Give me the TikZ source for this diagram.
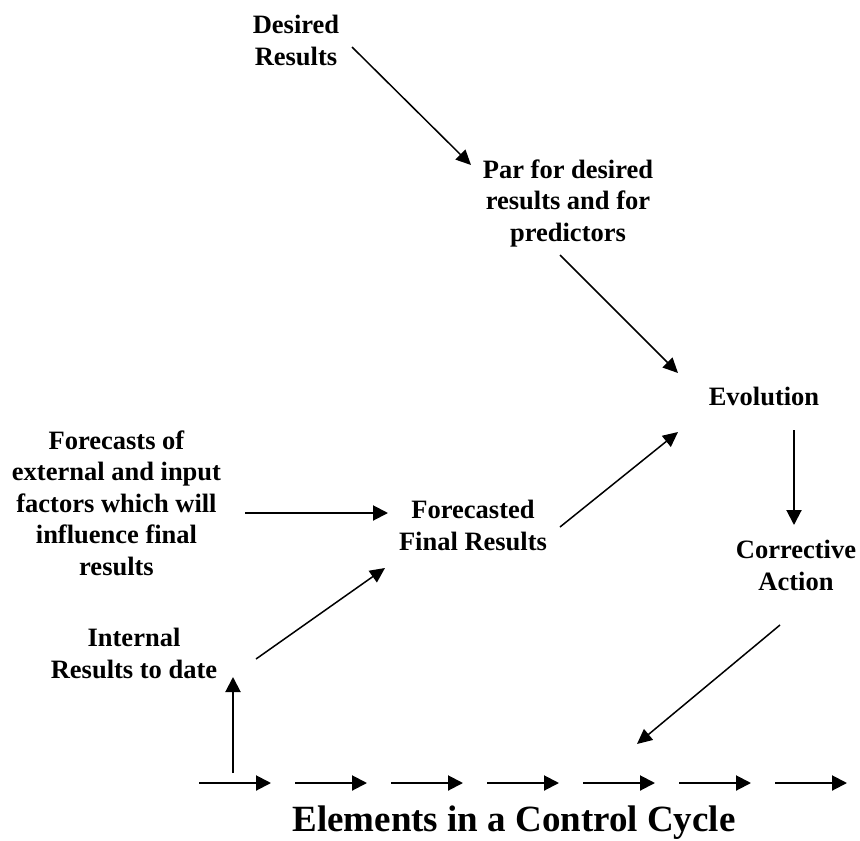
\documentclass[tikz,border=0pt]{standalone}
\usepackage{fontspec}
\setmainfont{Liberation Serif}
\usetikzlibrary{arrows.meta}

\tikzset{
  lbl/.style={align=center, inner sep=0pt, anchor=base,
    font=\bfseries\fontsize{26.5}{31.5}\selectfont},
  ttl/.style={inner sep=0pt, anchor=base,
    font=\bfseries\fontsize{37}{44}\selectfont},
  link/.style={-{Triangle[length=15pt,width=14pt]}, line width=1.5pt},
  flow/.style={-{Triangle[length=15pt,width=15pt]}, line width=2pt},
}

\begin{document}
\begin{tikzpicture}[x=1pt, y=-1pt]
\useasboundingbox (0,0) rectangle (860,841);

% labels (placed by the baseline of their last line)
\node[lbl] (desired)    at (296,65)  {Desired\\Results};
\node[lbl] (par)        at (568,241) {Par for desired\\results and for\\predictors};
\node[lbl] (evo)        at (764,405) {Evolution};
\node[lbl] (forecasts)  at (116.5,575) {Forecasts of\\external and input\\factors which will\\influence final\\results};
\node[lbl] (fcst)       at (473,550) {Forecasted\\Final Results};
\node[lbl] (corrective) at (796,590) {Corrective\\Action};
\node[lbl] (internal)   at (134,678) {Internal\\Results to date};
\node[ttl] (title)      at (514,831) {Elements in a Control Cycle};

% end points of the connectors
\coordinate (desired-out)   at (352,47);
\coordinate (par-in)        at (471,165);
\coordinate (par-out)       at (560,255);
\coordinate (evo-in1)       at (678,373);
\coordinate (fcst-out)      at (560,527);
\coordinate (evo-in2)       at (678,432);
\coordinate (evo-out)       at (794,430);
\coordinate (corr-in)       at (794,525);
\coordinate (corr-out)      at (780,625);
\coordinate (cycle-in)      at (637,744);
\coordinate (forecasts-out) at (245,513);
\coordinate (fcst-in1)      at (388,513);
\coordinate (internal-out)  at (256,659);
\coordinate (fcst-in2)      at (385,568);
\coordinate (cycle-out)     at (233,773);
\coordinate (internal-in)   at (233,677);

\draw[link] (desired-out) -- (par-in);
\draw[link] (par-out) -- (evo-in1);
\draw[link] (fcst-out) -- (evo-in2);
\draw[flow] (evo-out) -- (corr-in);
\draw[link] (corr-out) -- (cycle-in);
\draw[flow] (forecasts-out) -- (fcst-in1);
\draw[link] (internal-out) -- (fcst-in2);
\draw[flow] (cycle-out) -- (internal-in);

% the time line of the cycle
\foreach \i/\x in {1/199,2/295,3/391,4/487,5/583,6/679,7/775}{
  \coordinate (t\i a) at (\x,783);
  \coordinate (t\i b) at (\x+72,783);
  \draw[flow] (t\i a) -- (t\i b);
}
\end{tikzpicture}
\end{document}
